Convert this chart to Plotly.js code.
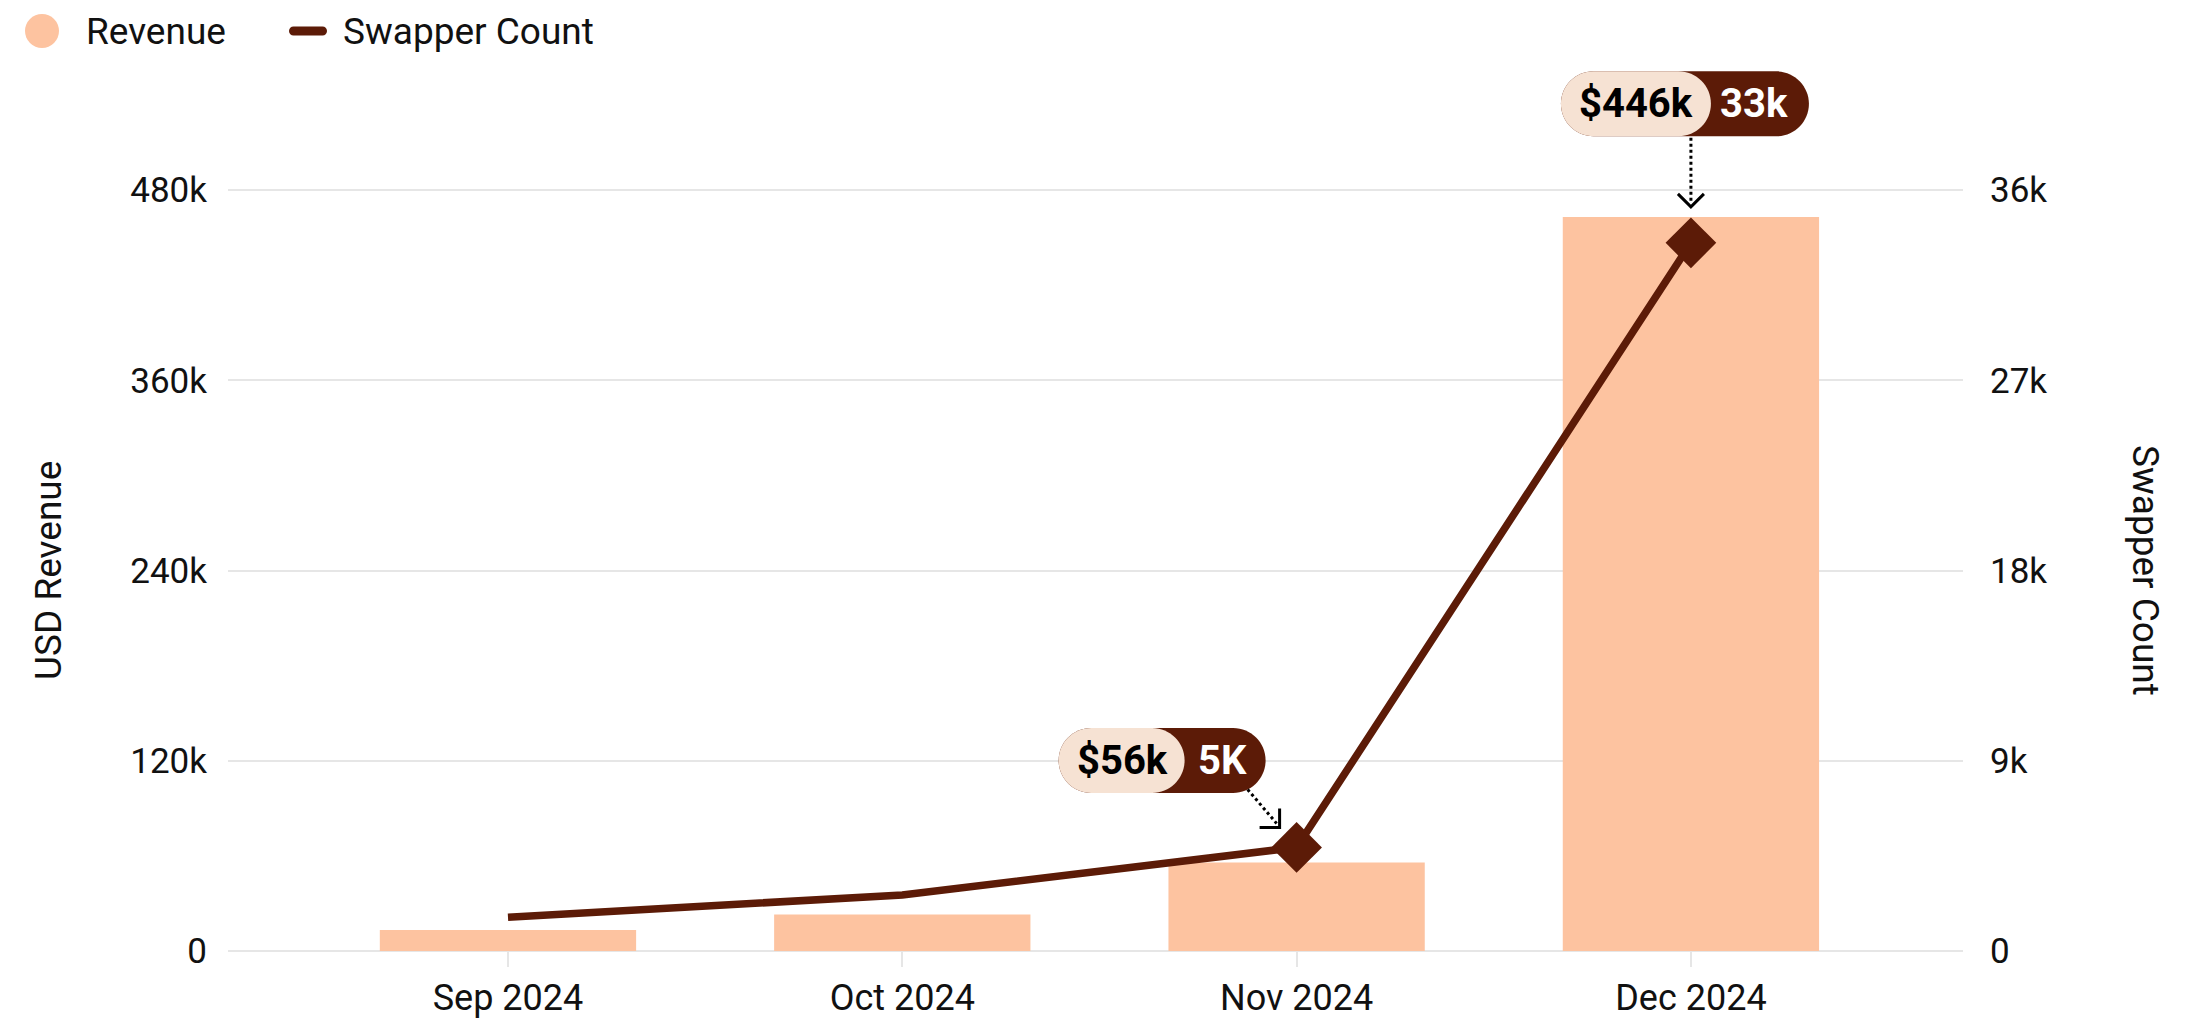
<!DOCTYPE html>
<html>
<head>
<meta charset="utf-8">
<script src="https://cdn.plot.ly/plotly-3.0.1.min.js"></script>
<style>
  html, body { margin: 0; padding: 0; background: #fff; }
  #myDiv { width: 2198px; height: 1024px; }
</style>
</head>
<body>
<div id="myDiv"></div>
<script>
// data
var months = ["Sep 2024", "Oct 2024", "Nov 2024", "Dec 2024"];
var revenue = [13300, 23000, 55800, 463000];
var swappers = [1600, 2650, 4900, 33500];

// highlighted points and their pill labels
var highlight = [2, 3];
var pillRevenue = ["$56k", "$446k"];
var pillSwappers = ["5K", "33k"];

var peach = "#fdc3a0";
var brown = "#5c1b07";
var cream = "#f6e2d3";
var font = "Roboto, 'Open Sans', sans-serif";

var trace1 = {
    x: months,
    y: revenue,
    name: "Revenue",
    type: "bar",
    width: 0.65,
    marker: { color: peach },
    yaxis: "y"
};

var trace2 = {
    x: months,
    y: swappers,
    name: "Swapper Count",
    type: "scatter",
    mode: "lines",
    line: { color: brown, width: 7.5 },
    yaxis: "y2"
};

var trace3 = {
    x: highlight.map(function(i) { return months[i]; }),
    y: highlight.map(function(i) { return swappers[i]; }),
    type: "scatter",
    mode: "markers",
    marker: { symbol: "diamond", size: 39, color: brown },
    yaxis: "y2"
};

// rounded pill as path, offsets in pixels from the anchor point
function pill(x0, x1, yc, h) {
    var r = h / 2, k = r * 0.5523;
    return "M" + (x0 + r) + "," + (yc + r) +
        " L" + (x1 - r) + "," + (yc + r) +
        " C" + (x1 - r + k) + "," + (yc + r) + " " + x1 + "," + (yc + k) + " " + x1 + "," + yc +
        " C" + x1 + "," + (yc - k) + " " + (x1 - r + k) + "," + (yc - r) + " " + (x1 - r) + "," + (yc - r) +
        " L" + (x0 + r) + "," + (yc - r) +
        " C" + (x0 + r - k) + "," + (yc - r) + " " + x0 + "," + (yc - k) + " " + x0 + "," + yc +
        " C" + x0 + "," + (yc + k) + " " + (x0 + r - k) + "," + (yc + r) + " " + (x0 + r) + "," + (yc + r) + " Z";
}

function anchored(i, extra) {
    var s = {
        xref: "x", yref: "y2",
        xsizemode: "pixel", ysizemode: "pixel",
        xanchor: i, yanchor: swappers[i],
        layer: "above"
    };
    for (var key in extra) s[key] = extra[key];
    return s;
}

// pill geometry per highlighted point: [left, split, right, center y, revenue text x, count text x]
var pillGeom = [
    [-238, -112, -31, 87, -174, -74],
    [-130, 20, 118, 139, -55, 63]
];

var shapes = [];
var annotations = [];

highlight.forEach(function(i, n) {
    var g = pillGeom[n];
    shapes.push(anchored(i, { type: "path", path: pill(g[0], g[2], g[3], 65), fillcolor: brown, line: { width: 0 } }));
    shapes.push(anchored(i, { type: "path", path: pill(g[0], g[1], g[3], 65), fillcolor: cream, line: { width: 0 } }));
    annotations.push({
        xref: "x", yref: "y2", x: i, y: swappers[i],
        xshift: g[4], yshift: g[3], showarrow: false,
        text: pillRevenue[n],
        font: { family: font, size: 40, weight: 700, color: "#000" }
    });
    annotations.push({
        xref: "x", yref: "y2", x: i, y: swappers[i],
        xshift: g[5], yshift: g[3], showarrow: false,
        text: pillSwappers[n],
        font: { family: font, size: 40, weight: 700, color: "#fff" }
    });
});

// dotted pointers
shapes.push(anchored(2, { type: "line", x0: -49, y0: 58, x1: -20, y1: 24, line: { color: "#000", width: 3, dash: "dot" } }));
shapes.push(anchored(2, { type: "path", path: "M-37,20 L-17,20 L-17,39", line: { color: "#000", width: 3 } }));
shapes.push(anchored(3, { type: "line", x0: 0, y0: 105, x1: 0, y1: 40, line: { color: "#000", width: 3, dash: "dot" } }));
shapes.push(anchored(3, { type: "path", path: "M-13,49 L0,36 L13,49", line: { color: "#000", width: 3 } }));

// legend drawn by hand (bigger symbols than plotly's legend allows)
shapes.push({
    type: "circle", xref: "paper", yref: "paper",
    xsizemode: "pixel", ysizemode: "pixel", xanchor: 0, yanchor: 1,
    x0: -203, x1: -169, y0: 12, y1: 46,
    fillcolor: peach, line: { width: 0 }
});
shapes.push({
    type: "path", xref: "paper", yref: "paper",
    xsizemode: "pixel", ysizemode: "pixel", xanchor: 0, yanchor: 1,
    path: pill(61, 99, 29, 9),
    fillcolor: brown, line: { width: 0 }
});
annotations.push({
    xref: "paper", yref: "paper", x: 0, y: 1, xshift: -144, yshift: 29,
    xanchor: "left", yanchor: "middle", showarrow: false,
    text: "Revenue", font: { family: font, size: 37, color: "#111" }
});
annotations.push({
    xref: "paper", yref: "paper", x: 0, y: 1, xshift: 113, yshift: 29,
    xanchor: "left", yanchor: "middle", showarrow: false,
    text: "Swapper Count", font: { family: font, size: 37, color: "#111" }
});

// axis titles, centred on the middle of the tick span
annotations.push({
    xref: "paper", yref: "y", x: 0, y: 240000, xshift: -203,
    textangle: -90, showarrow: false,
    text: "USD Revenue", font: { family: font, size: 37, color: "#111" }
});
annotations.push({
    xref: "paper", yref: "y", x: 1, y: 240000, xshift: 206,
    textangle: 90, showarrow: false,
    text: "Swapper Count", font: { family: font, size: 37, color: "#111" }
});

var data = [trace1, trace2, trace3];
var layout = {
    width: 2198,
    height: 1024,
    margin: { l: 228, r: 235, t: 60, b: 73 },
    paper_bgcolor: "#fff",
    plot_bgcolor: "#fff",
    showlegend: false,
    hovermode: false,
    font: { family: font, size: 36, color: "#111" },
    xaxis: {
        type: "category",
        range: [-0.71, 3.69],
        showgrid: false,
        zeroline: false,
        showline: false,
        ticks: "outside",
        ticklen: 15,
        tickwidth: 2,
        tickcolor: "#e6e6e6",
        ticklabelstandoff: 0,
        tickfont: { family: font, size: 36, color: "#111" }
    },
    yaxis: {
        range: [0, 562000],
        tickvals: [0, 120000, 240000, 360000, 480000],
        tickformat: "~s",
        showgrid: true,
        gridcolor: "#e6e6e6",
        gridwidth: 2,
        zeroline: true,
        zerolinecolor: "#e6e6e6",
        zerolinewidth: 2,
        ticklabelstandoff: 20,
        tickfont: { family: font, size: 35, color: "#111" }
    },
    yaxis2: {
        overlaying: "y",
        side: "right",
        range: [0, 42150],
        tickvals: [0, 9000, 18000, 27000, 36000],
        tickformat: "~s",
        showgrid: false,
        zeroline: false,
        ticklabelstandoff: 26,
        tickfont: { family: font, size: 35, color: "#111" }
    },
    shapes: shapes,
    annotations: annotations
};

Plotly.newPlot("myDiv", data, layout, { displayModeBar: false, staticPlot: true });
</script>
</body>
</html>
